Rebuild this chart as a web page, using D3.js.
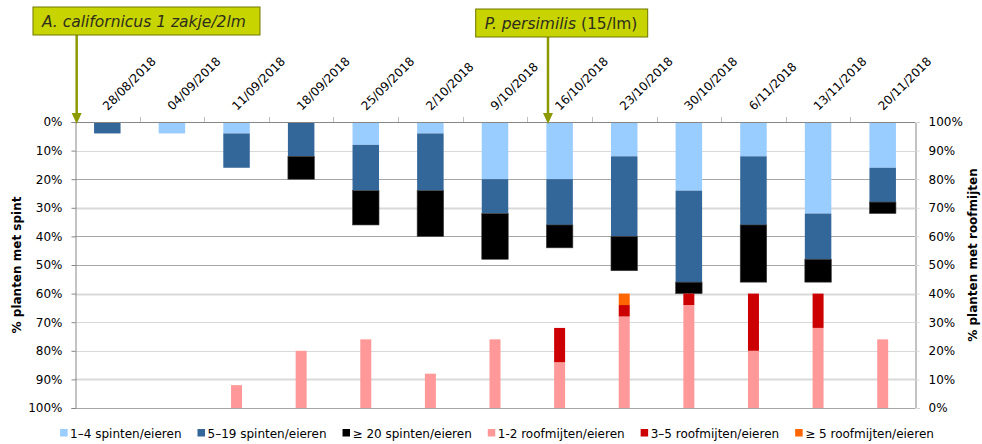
<!DOCTYPE html>
<html>
<head>
<meta charset="utf-8">
<script src="https://cdn.jsdelivr.net/npm/d3@7"></script>
<style>
  html, body { margin: 0; padding: 0; background: #fff; }
  svg { display: block; font-family: "DejaVu Sans", Verdana, sans-serif; }
</style>
</head>
<body>
<svg id="chart" width="982" height="444"></svg>
<script>
// Sampling dates (category axis)
const dates = ["28/08/2018", "04/09/2018", "11/09/2018", "18/09/2018", "25/09/2018",
  "2/10/2018", "9/10/2018", "16/10/2018", "23/10/2018", "30/10/2018",
  "6/11/2018", "13/11/2018", "20/11/2018"];

// % plants with spider mites (left axis, hanging from the top)
const spint1to4  = [0, 4, 4, 0, 8, 4, 20, 20, 12, 24, 12, 32, 16];
const spint5to19 = [4, 0, 12, 12, 16, 20, 12, 16, 28, 32, 24, 16, 12];
const spint20    = [0, 0, 0, 8, 12, 16, 16, 8, 12, 4, 20, 8, 4];

// % plants with predatory mites (right axis, rising from the bottom)
const roof1to2 = [0, 0, 8, 20, 24, 12, 24, 16, 32, 36, 20, 28, 24];
const roof3to5 = [0, 0, 0, 0, 0, 0, 0, 12, 4, 4, 20, 12, 0];
const roof5    = [0, 0, 0, 0, 0, 0, 0, 0, 4, 0, 0, 0, 0];

const pctTicks = [0, 10, 20, 30, 40, 50, 60, 70, 80, 90, 100];

const spintSeries = [
  { key: "s1", label: "1\u20134 spinten/eieren", color: "#99ccff", values: spint1to4 },
  { key: "s2", label: "5\u201319 spinten/eieren", color: "#336699", values: spint5to19 },
  { key: "s3", label: "\u2265 20 spinten/eieren", color: "#000000", values: spint20 }
];
const roofSeries = [
  { key: "r1", label: "1-2 roofmijten/eieren", color: "#ff9999", values: roof1to2 },
  { key: "r2", label: "3\u20135 roofmijten/eieren", color: "#cc0000", values: roof3to5 },
  { key: "r3", label: "\u2265 5 roofmijten/eieren", color: "#ff6600", values: roof5 }
];

// Release events
const releases = [
  { date: "28/08/2018", offset: 0.026, boxLeft: -43.7, boxTop: 7, boxW: 227, parts: [{ t: "A. californicus 1 zakje/2lm", italic: true }] },
  { date: "16/10/2018", offset: 0.32, boxLeft: -72.3, boxTop: 9, boxW: 172, parts: [{ t: "P. persimilis", italic: true }, { t: " (15/lm)", italic: false }] }
];

const svg = d3.select("#chart");
const plot = { left: 75, right: 915, top: 122, bottom: 408 };

const x = d3.scaleBand().domain(dates).range([plot.left, plot.right]).paddingInner(0).paddingOuter(0);
const yL = d3.scaleLinear().domain([0, 100]).range([plot.top, plot.bottom]);
const yR = d3.scaleLinear().domain([0, 100]).range([plot.bottom, plot.top]);

const bw = x.bandwidth();
const spintW = bw * 0.41;
const roofW = bw * 0.17;

// Gridlines
const darkGrid = [20, 40, 50];
const thickGrid = [30, 60, 90];
const grid = svg.append("g");
pctTicks.filter(v => v > 0 && v < 100).forEach(v => {
  const dark = darkGrid.includes(v);
  const thick = thickGrid.includes(v);
  grid.append("line")
    .attr("x1", plot.left).attr("x2", plot.right)
    .attr("y1", Math.round(yL(v)) + 0.5).attr("y2", Math.round(yL(v)) + 0.5)
    .attr("stroke", dark ? "#a6a6a6" : "#d9d9d9")
    .attr("stroke-width", thick ? 2 : 1);
});
grid.append("line")
  .attr("x1", plot.left).attr("x2", plot.right)
  .attr("y1", Math.round(yL(100)) + 0.5).attr("y2", Math.round(yL(100)) + 0.5)
  .attr("stroke", "#a6a6a6");

// Stacked spider-mite bars
const spintRows = dates.map((d, i) => {
  const r = { date: d };
  spintSeries.forEach(s => r[s.key] = s.values[i]);
  return r;
});
const spintStack = d3.stack().keys(spintSeries.map(s => s.key))(spintRows);
spintStack.forEach((layer, li) => {
  svg.append("g").selectAll("rect").data(layer).join("rect")
    .attr("x", d => x(d.data.date) + (bw - spintW) / 2)
    .attr("width", spintW)
    .attr("y", d => yL(d[0]))
    .attr("height", d => yL(d[1]) - yL(d[0]))
    .attr("fill", spintSeries[li].color)
    .attr("stroke", li === 2 ? "#404040" : "none")
    .attr("stroke-width", 0.6);
});

// Stacked predatory-mite bars
const roofRows = dates.map((d, i) => {
  const r = { date: d };
  roofSeries.forEach(s => r[s.key] = s.values[i]);
  return r;
});
const roofStack = d3.stack().keys(roofSeries.map(s => s.key))(roofRows);
roofStack.forEach((layer, li) => {
  svg.append("g").selectAll("rect").data(layer).join("rect")
    .attr("x", d => x(d.data.date) + (bw - roofW) / 2)
    .attr("width", roofW)
    .attr("y", d => yR(d[1]))
    .attr("height", d => yR(d[0]) - yR(d[1]))
    .attr("fill", roofSeries[li].color);
});

// Left axis
const axL = svg.append("g").attr("transform", `translate(${plot.left + 0.5},0)`)
  .call(d3.axisLeft(yL).tickValues(pctTicks).tickFormat(d => d + "%").tickSize(4).tickPadding(9));
axL.select(".domain").attr("stroke", "#868686");
axL.selectAll(".tick line").attr("stroke", "#868686");
axL.selectAll("text").attr("font-size", 12).attr("fill", "#000").attr("font-family", "DejaVu Sans");

// Right axis
const axR = svg.append("g").attr("transform", `translate(${plot.right + 0.5},0)`)
  .call(d3.axisRight(yR).tickValues(pctTicks).tickFormat(d => d + "%").tickSize(4).tickPadding(9));
axR.select(".domain").attr("stroke", "#868686");
axR.selectAll(".tick line").attr("stroke", "#d9d9d9");
axR.selectAll("text").attr("font-size", 12).attr("fill", "#000").attr("font-family", "DejaVu Sans");

// Top category axis line with boundary ticks
svg.append("line")
  .attr("x1", plot.left).attr("x2", plot.right)
  .attr("y1", plot.top + 0.5).attr("y2", plot.top + 0.5)
  .attr("stroke", "#868686");
const bounds = dates.map(d => x(d)).concat([plot.right]);
svg.append("g").selectAll("line").data(bounds.slice(1, -1)).join("line")
  .attr("x1", d => Math.round(d) + 0.5).attr("x2", d => Math.round(d) + 0.5)
  .attr("y1", plot.top - 5).attr("y2", plot.top)
  .attr("stroke", "#bfbfbf");

// Date labels
svg.append("g").selectAll("text").data(dates).join("text")
  .attr("transform", d => `translate(${x(d) + bw / 2 + 0.5},${plot.top - 11}) rotate(-45)`)
  .attr("font-size", 12)
  .attr("fill", "#000")
  .text(d => d);

// Axis titles
svg.append("text")
  .attr("transform", `translate(21,${(plot.top + plot.bottom) / 2}) rotate(-90)`)
  .attr("text-anchor", "middle").attr("font-size", 12).attr("font-weight", "bold")
  .text("% planten met spint");
svg.append("text")
  .attr("transform", `translate(977,${(plot.top + plot.bottom) / 2 - 10}) rotate(-90)`)
  .attr("text-anchor", "middle").attr("font-size", 12).attr("font-weight", "bold")
  .text("% planten met roofmijten");

// Release annotations: labelled box with arrow down to the axis
const olive = "#8c9a00";
releases.forEach(r => {
  const ax = x(r.date) + r.offset * bw;
  const g = svg.append("g");
  const boxH = 28;
  g.append("line")
    .attr("x1", ax).attr("x2", ax)
    .attr("y1", r.boxTop + boxH).attr("y2", plot.top - 7)
    .attr("stroke", olive).attr("stroke-width", 2.5);
  g.append("path")
    .attr("d", `M${ax - 5},${plot.top - 9} L${ax + 5},${plot.top - 9} L${ax},${plot.top + 2} Z`)
    .attr("fill", olive);
  g.append("rect")
    .attr("x", ax + r.boxLeft).attr("y", r.boxTop)
    .attr("width", r.boxW).attr("height", boxH)
    .attr("fill", "#c8d400").attr("stroke", "#6f7800").attr("stroke-width", 1);
  const t = g.append("text")
    .attr("x", ax + r.boxLeft + 9).attr("y", r.boxTop + 20)
    .attr("font-size", 15.5).attr("fill", "#2e2e1e");
  r.parts.forEach(p => t.append("tspan").attr("font-style", p.italic ? "italic" : "normal").text(p.t));
});

// Legend
const legendItems = spintSeries.concat(roofSeries);
const legend = svg.append("g");
let lx = 0;
legendItems.forEach(it => {
  const g = legend.append("g").attr("transform", `translate(${lx},0)`);
  g.append("rect").attr("x", 0).attr("y", 429).attr("width", 7.5).attr("height", 7.5).attr("fill", it.color);
  const tx = g.append("text").attr("x", 10).attr("y", 437.5).attr("font-size", 12).attr("fill", "#000").text(it.label);
  lx += 10 + tx.node().getComputedTextLength() + 16;
});
const legendW = lx - 16;
legend.attr("transform", `translate(${497 - legendW / 2},0)`);
</script>
</body>
</html>
